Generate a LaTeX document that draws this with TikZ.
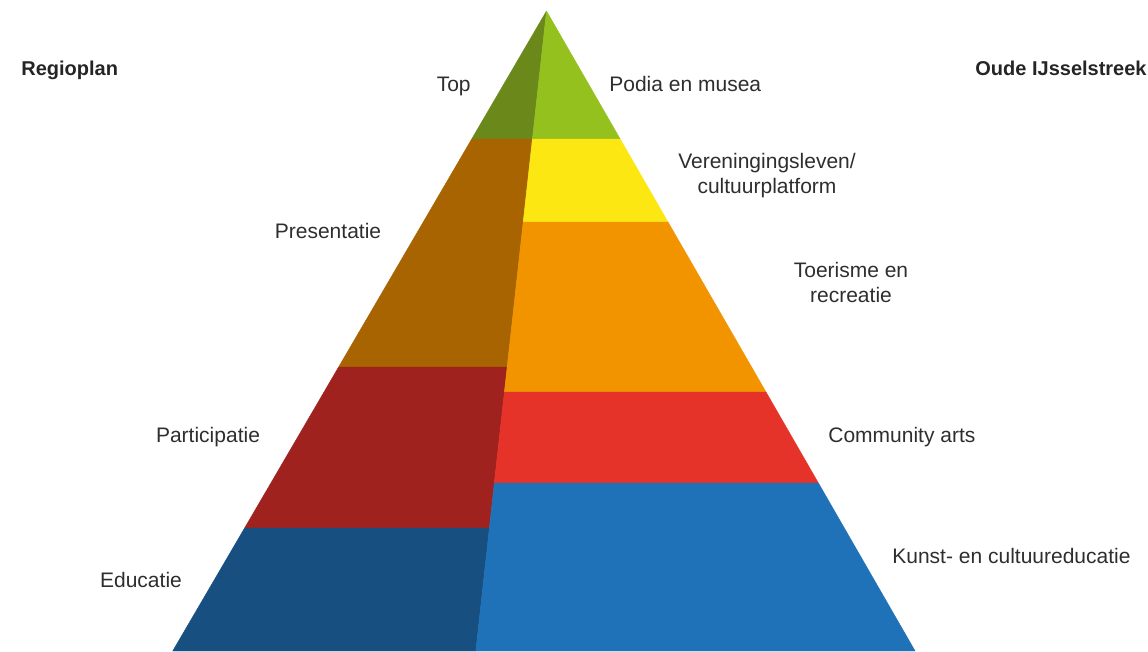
\documentclass[tikz,border=0pt]{standalone}
\usepackage{fontspec}
\setmainfont{Liberation Sans}

\definecolor{topL}{HTML}{6A891A}
\definecolor{topR}{HTML}{95C11F}
\definecolor{layerYellow}{HTML}{FCE712}
\definecolor{layerOrange}{HTML}{F29400}
\definecolor{layerRed}{HTML}{E6332A}
\definecolor{layerBlue}{HTML}{1F71B8}
\definecolor{layerBrown}{HTML}{A86400}
\definecolor{layerDarkRed}{HTML}{A0221F}
\definecolor{layerDarkBlue}{HTML}{164F80}
\definecolor{labelGray}{HTML}{2E2E2E}

\tikzset{every picture/.style={line width=0.75pt}}
\tikzset{
  face/.style={fill=#1, draw=#1, line width=0.4pt, line join=round},
  lbl/.style={inner sep=0pt, text=labelGray, font=\fontsize{21}{25}\selectfont},
  head/.style={inner sep=0pt, text=labelGray!80!black, font=\fontsize{20}{25}\selectfont\bfseries}
}

\begin{document}
\begin{tikzpicture}[x=1pt,y=1pt,yscale=-1,xscale=1]
	\useasboundingbox (0,0) rectangle (1148,651);

	%Shape: Polygon [left face, Top]
	\draw [face=topL] (546.5,11) -- (532.4,139) -- (471.7,139) -- cycle ;
	%Shape: Polygon [left face, Presentatie]
	\draw [face=layerBrown] (471.7,139) -- (532.4,139) -- (507.2,367) -- (338.6,367) -- cycle ;
	%Shape: Polygon [left face, Participatie]
	\draw [face=layerDarkRed] (338.6,367) -- (507.2,367) -- (489.4,528) -- (244.6,528) -- cycle ;
	%Shape: Polygon [left face, Educatie]
	\draw [face=layerDarkBlue] (244.6,528) -- (489.4,528) -- (475.8,651) -- (172.7,651) -- cycle ;

	%Shape: Polygon [right face, Podia en musea]
	\draw [face=topR] (546.5,11) -- (620.2,139) -- (532.4,139) -- cycle ;
	%Shape: Polygon [right face, Vereningingsleven]
	\draw [face=layerYellow] (532.4,139) -- (620.2,139) -- (668.0,222) -- (523.2,222) -- cycle ;
	%Shape: Polygon [right face, Toerisme]
	\draw [face=layerOrange] (523.2,222) -- (668.0,222) -- (766.0,392) -- (504.4,392) -- cycle ;
	%Shape: Polygon [right face, Community arts]
	\draw [face=layerRed] (504.4,392) -- (766.0,392) -- (818.4,483) -- (494.3,483) -- cycle ;
	%Shape: Polygon [right face, Kunst- en cultuureducatie]
	\draw [face=layerBlue] (494.3,483) -- (818.4,483) -- (915.1,651) -- (475.8,651) -- cycle ;

	% Text Node
	\node (regioplan) [head, anchor=base west] at (21,75) {Regioplan};
	% Text Node
	\node (oude) [head, anchor=base east] at (1147,75) {Oude IJsselstreek};
	% Text Node
	\node (top) [lbl, anchor=base east] at (471,91) {Top};
	% Text Node
	\node (podia) [lbl, anchor=base west] at (609,91) {Podia en musea};
	% Text Node
	\node (vereniging) [lbl, anchor=base, align=center] at (767,193) {Vereningingsleven/\\cultuurplatform};
	% Text Node
	\node (presentatie) [lbl, anchor=base] at (328,238) {Presentatie};
	% Text Node
	\node (toerisme) [lbl, anchor=base, align=center] at (851,302) {Toerisme en\\recreatie};
	% Text Node
	\node (participatie) [lbl, anchor=base] at (208,442) {Participatie};
	% Text Node
	\node (community) [lbl, anchor=base west] at (828,442) {Community arts};
	% Text Node
	\node (educatie) [lbl, anchor=base] at (141,587) {Educatie};
	% Text Node
	\node (kunst) [lbl, anchor=base west] at (892,563) {Kunst- en cultuureducatie};
\end{tikzpicture}
\end{document}
